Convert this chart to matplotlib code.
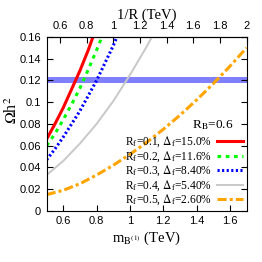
import matplotlib
matplotlib.use('Agg')
from matplotlib import pyplot as plt

# relic density vs first KK mass
m_red = [0.50, 0.55, 0.60, 0.65, 0.70, 0.75, 0.778]
om_red = [0.066, 0.080, 0.095, 0.112, 0.129, 0.148, 0.160]
m_green = [0.50, 0.55, 0.60, 0.65, 0.70, 0.75, 0.80, 0.832]
om_green = [0.060, 0.071, 0.084, 0.098, 0.113, 0.130, 0.148, 0.160]
m_blue = [0.50, 0.55, 0.60, 0.65, 0.70, 0.75, 0.80, 0.85, 0.90, 0.922]
om_blue = [0.047, 0.057, 0.068, 0.080, 0.092, 0.106, 0.120, 0.136, 0.152, 0.160]
m_gray = [0.50, 0.60, 0.70, 0.80, 0.90, 1.00, 1.10, 1.132]
om_gray = [0.033, 0.046, 0.062, 0.080, 0.101, 0.125, 0.151, 0.160]
m_orange = [0.50, 0.60, 0.70, 0.80, 0.90, 1.00, 1.10, 1.20, 1.30, 1.40, 1.50, 1.60, 1.70]
om_orange = [0.015, 0.019, 0.025, 0.033, 0.042, 0.052, 0.063, 0.075, 0.088, 0.102, 0.117, 0.133, 0.150]

labels = ['R$_{\\rm f}$=0.1, $\\Delta_{\\rm f}$=15.0%',
          'R$_{\\rm f}$=0.2, $\\Delta_{\\rm f}$=11.6%',
          'R$_{\\rm f}$=0.3, $\\Delta_{\\rm f}$=8.40%',
          'R$_{\\rm f}$=0.4, $\\Delta_{\\rm f}$=5.40%',
          'R$_{\\rm f}$=0.5, $\\Delta_{\\rm f}$=2.60%']

omega_obs = 0.12
bottom_ticks = [0.6, 0.8, 1.0, 1.2, 1.4, 1.6]
top_ticks = [0.6, 0.8, 1.0, 1.2, 1.4, 1.6, 1.8, 2.0]
y_ticks = [0, 0.02, 0.04, 0.06, 0.08, 0.1, 0.12, 0.14, 0.16]

plt.rcParams['mathtext.fontset'] = 'stix'
serif = 'Liberation Serif'
sans = ['Liberation Sans Narrow', 'Liberation Sans']

fig = plt.figure(figsize=(2.62, 2.62), dpi=100)
ax = fig.add_axes([0.178, 0.195, 0.763, 0.664])

ax.axhspan(omega_obs - 0.0027, omega_obs + 0.0027, color='#8080ff', lw=0)

ax.plot(m_red, om_red, color='#ff0000', lw=2.2, label=labels[0])
ax.plot(m_green, om_green, color='#00ff00', lw=2.2, ls=(0, (1.2, 1.5)), label=labels[1])
ax.plot(m_blue, om_blue, color='#0000ff', lw=2.2, ls=(0, (0.7, 0.8)), label=labels[2])
ax.plot(m_gray, om_gray, color='#c8c8c8', lw=1.4, label=labels[3])
ax.plot(m_orange, om_orange, color='#ffa500', lw=2.2, ls=(0, (3, 1, 1, 1)), label=labels[4])

ax.set_xlim(0.5, 1.7)
ax.set_ylim(0, 0.16)
ax.set_xticks(bottom_ticks)
ax.set_xticklabels(['0.6', '0.8', '1', '1.2', '1.4', '1.6'])
ax.set_yticks(y_ticks)
ax.set_yticklabels(['0', '0.02', '0.04', '0.06', '0.08', '0.1', '0.12', '0.14', '0.16'])
ax.tick_params(axis='both', direction='in', length=4, width=0.8, labelsize=8, pad=4)
ax.tick_params(axis='y', right=True)
for t in ax.get_xticklabels() + ax.get_yticklabels():
    t.set_family(sans)

top = ax.secondary_xaxis('top', functions=(lambda m: (m - 0.1) / 0.8, lambda r: 0.8 * r + 0.1))
top.set_xticks(top_ticks)
top.set_xticklabels(['0.6', '0.8', '1', '1.2', '1.4', '1.6', '1.8', '2'])
top.tick_params(direction='in', length=4, width=0.8, labelsize=8, pad=4)
for t in top.get_xticklabels():
    t.set_family(sans)
top.set_xlabel('1/R (TeV)', family=serif, fontsize=10.5, labelpad=2)

ax.set_xlabel('m$_{\\rm B^{(1)}}$ (TeV)', family=serif, fontsize=10.5, labelpad=2)
ax.set_ylabel('$\\Omega$h$^2$', family=serif, fontsize=11.5)
ax.yaxis.set_label_coords(-0.13, 0.58)

ax.text(1.62, 0.079, 'R$_{\\rm B}$=0.6', family=serif, fontsize=9.5, ha='right', va='center')

leg = ax.legend(loc='lower right', frameon=False, markerfirst=False,
                prop={'family': serif, 'size': 8.3}, handlelength=2.3, labelspacing=0.0,
                handletextpad=0.4, borderaxespad=0.1, borderpad=0.2)

fig.savefig('out.png', dpi=100)
